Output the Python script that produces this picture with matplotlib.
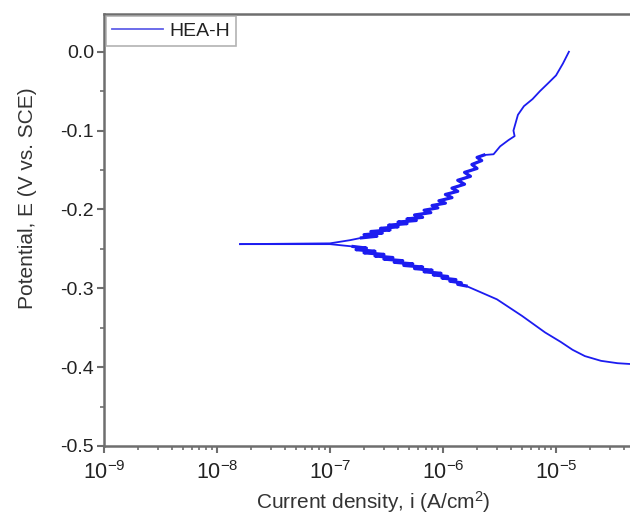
import numpy as np
import matplotlib.pyplot as plt

plt.rcParams['font.family'] = ['Liberation Sans', 'DejaVu Sans']
plt.rcParams['mathtext.fontset'] = 'custom'
plt.rcParams['mathtext.rm'] = 'Liberation Sans'
plt.rcParams['mathtext.it'] = 'Liberation Sans:italic'

# anodic branch (current density A/cm2, potential V vs SCE)
i_anodic = [1.6e-8, 1.0e-7, 1.5e-7,
            1.9e-7, 2.6e-7, 2.0e-7, 2.9e-7, 2.3e-7, 3.4e-7, 2.8e-7, 4.0e-7,
            3.3e-7, 4.8e-7, 4.0e-7, 5.8e-7, 4.8e-7, 6.6e-7, 5.6e-7, 7.8e-7,
            6.8e-7, 9.0e-7, 8.0e-7, 1.05e-6, 9.2e-7, 1.2e-6, 1.05e-6, 1.35e-6,
            1.2e-6, 1.55e-6, 1.35e-6, 1.75e-6, 1.55e-6, 2.0e-6, 1.8e-6, 2.2e-6,
            2.0e-6, 2.3e-6,
            2.8e-6, 3.2e-6, 3.8e-6, 4.3e-6, 4.2e-6, 4.6e-6, 5.2e-6, 6.2e-6,
            7.2e-6, 8.5e-6, 1.0e-5, 1.15e-5, 1.3e-5]
E_anodic = [-0.244, -0.243, -0.239,
            -0.236, -0.234, -0.232, -0.230, -0.228, -0.226, -0.224, -0.222,
            -0.220, -0.218, -0.216, -0.214, -0.212, -0.210, -0.207, -0.204,
            -0.201, -0.198, -0.195, -0.192, -0.189, -0.185, -0.181, -0.177,
            -0.173, -0.168, -0.163, -0.158, -0.153, -0.148, -0.143, -0.138,
            -0.134, -0.131,
            -0.130, -0.120, -0.112, -0.107, -0.100, -0.080, -0.069, -0.060,
            -0.050, -0.040, -0.030, -0.015, 0.0]

# cathodic branch
i_cathodic = [1.6e-8, 1.0e-7,
              1.6e-7, 2.1e-7, 1.7e-7, 2.5e-7, 2.0e-7, 3.0e-7, 2.5e-7, 3.6e-7,
              3.0e-7, 4.4e-7, 3.7e-7, 5.4e-7, 4.5e-7, 6.6e-7, 5.6e-7, 8.0e-7,
              6.8e-7, 9.6e-7, 8.2e-7, 1.1e-6, 9.8e-7, 1.3e-6, 1.15e-6, 1.45e-6,
              1.35e-6, 1.6e-6,
              2.0e-6, 3.0e-6, 5.0e-6, 8.0e-6, 1.1e-5, 1.4e-5, 1.8e-5,
              2.5e-5, 3.5e-5, 4.5e-5, 6.0e-5]
E_cathodic = [-0.244, -0.244,
              -0.247, -0.249, -0.251, -0.253, -0.255, -0.257, -0.259, -0.261,
              -0.263, -0.265, -0.267, -0.269, -0.271, -0.273, -0.275, -0.277,
              -0.279, -0.281, -0.283, -0.285, -0.287, -0.289, -0.291, -0.293,
              -0.295, -0.297,
              -0.303, -0.314, -0.335, -0.356, -0.368, -0.378, -0.386,
              -0.392, -0.395, -0.396, -0.397]

x_ticks = [1e-9, 1e-8, 1e-7, 1e-6, 1e-5]
y_ticks = [0.0, -0.1, -0.2, -0.3, -0.4, -0.5]

line_color = '#1c1cf0'
spine_color = '#6e6e6e'

fig = plt.figure(figsize=(6.3, 5.15), dpi=100)
ax = fig.add_axes([0.165, 0.134, 0.897, 0.839])

ax.plot(i_anodic, E_anodic, color=line_color, lw=1.3, label='HEA-H')
ax.plot(i_cathodic, E_cathodic, color=line_color, lw=1.3)
# noisy stretches near Ecorr look thicker in the original
ax.plot(i_anodic[3:37], E_anodic[3:37], color=line_color, lw=2.3)
ax.plot(i_cathodic[2:28], E_cathodic[2:28], color=line_color, lw=2.3)

ax.set_xscale('log')
ax.set_xlim(1e-9, 1e-4)
ax.set_xticks(x_ticks)
ax.set_ylim(-0.5, 0.048)
ax.set_yticks(y_ticks)
ax.set_yticks([-0.05, -0.15, -0.25, -0.35, -0.45], minor=True)
ax.yaxis.set_major_formatter(plt.FuncFormatter(lambda v, p: f'{v:.1f}' if abs(v) > 1e-9 else '0.0'))

for s in ['left', 'bottom', 'top', 'right']:
    ax.spines[s].set_color(spine_color)
    ax.spines[s].set_linewidth(1.8)

ax.tick_params(axis='both', which='major', direction='out', length=5, width=1.5,
               color=spine_color, pad=2)
ax.tick_params(axis='both', which='minor', direction='out', length=3, width=1.2,
               color=spine_color)
ax.tick_params(axis='y', labelsize=14, colors='#222222', color=spine_color)
ax.tick_params(axis='x', labelsize=15.5, colors='#222222', color=spine_color, pad=6)

ax.set_xlabel('Current density, i (A/cm$^2$)', fontsize=15, color='#333333')
ax.xaxis.set_label_coords(0.476, -0.1)
ax.set_ylabel('Potential, E (V vs. SCE)', fontsize=15, color='#333333')
ax.yaxis.set_label_coords(-0.119, 0.574)

leg = ax.legend(loc='upper left', fontsize=14, frameon=True, fancybox=False,
                borderaxespad=0.12, handlelength=2.6, handletextpad=0.35,
                borderpad=0.3)
leg.get_frame().set_edgecolor('#a0a0a0')
leg.get_frame().set_linewidth(1.2)
leg.get_lines()[0].set_color('#6060e8')
for t in leg.get_texts():
    t.set_color('#222222')

fig.savefig('out.png', dpi=100)
